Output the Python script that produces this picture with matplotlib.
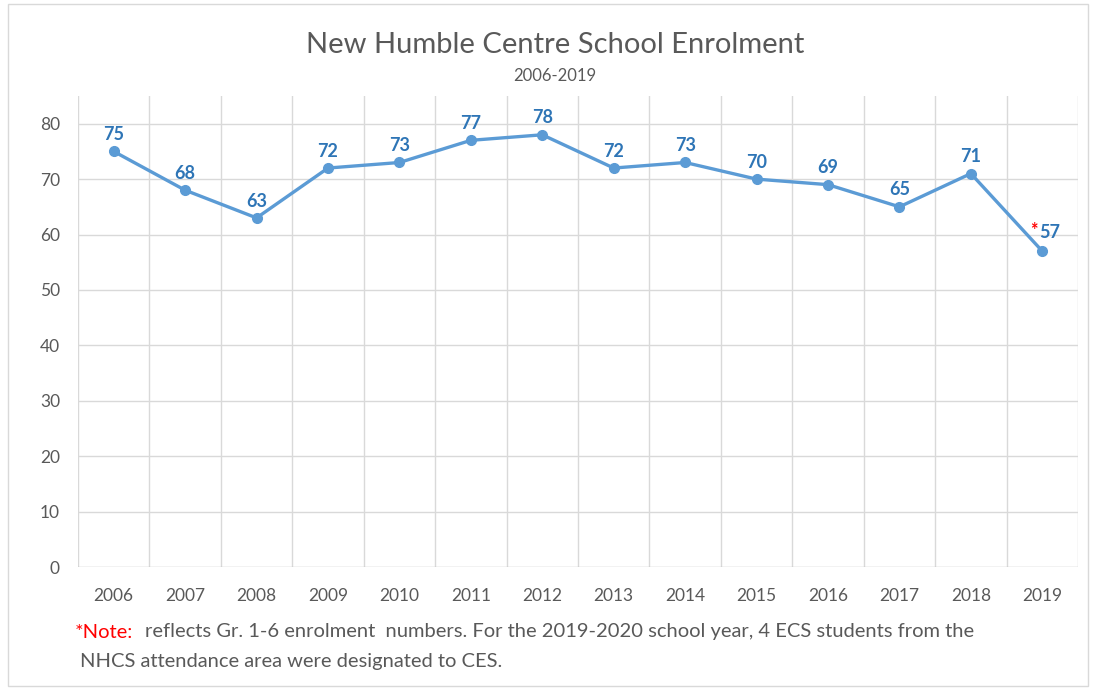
"""
New Humble Centre School enrolment, 2006-2019
"""

import matplotlib.pyplot as plt
from matplotlib.patches import Rectangle

years = ["2006", "2007", "2008", "2009", "2010", "2011", "2012",
         "2013", "2014", "2015", "2016", "2017", "2018", "2019"]
enrolment = [75, 68, 63, 72, 73, 77, 78, 72, 73, 70, 69, 65, 71, 57]
y_ticks = [0, 10, 20, 30, 40, 50, 60, 70, 80]

LINE = "#5B9BD5"
LABEL = "#2E75B6"
TEXT = "#595959"
GRID = "#D9D9D9"

plt.rcParams["font.family"] = ["Lato", "DejaVu Sans"]

fig = plt.figure(figsize=(10.96, 6.90), dpi=100)
ax = fig.add_axes([78 / 1096, 1 - 567 / 690, 1000 / 1096, 471 / 690])

x = list(range(len(years)))
ax.plot(x, enrolment, color=LINE, linewidth=2.4, marker="o",
        markersize=7, zorder=3)

last = len(enrolment) - 1
for i, v in enumerate(enrolment):
    if i == last:
        # starred label sits to the right of the point
        ax.annotate(str(v), (i, v), xytext=(-2, 7),
                    textcoords="offset points", ha="left", va="bottom",
                    color=LABEL, fontsize=13, fontweight="bold")
        ax.annotate("*", (i, v), xytext=(-3, 9), textcoords="offset points",
                    ha="right", va="bottom", color="#FF0000",
                    fontsize=13, fontweight="bold")
    else:
        ax.annotate(str(v), (i, v), xytext=(0, 6),
                    textcoords="offset points", ha="center", va="bottom",
                    color=LABEL, fontsize=13, fontweight="bold")

ax.set_xlim(-0.5, len(years) - 0.5)
ax.set_ylim(0, 85)
ax.set_yticks(y_ticks)
ax.set_xticks(x)
ax.set_xticklabels(years)

# vertical gridlines sit between categories
for b in range(len(years) + 1):
    ax.axvline(b - 0.5, color=GRID, linewidth=1, zorder=1)
for t in y_ticks:
    ax.axhline(t, color=GRID if t else "#BFBFBF", linewidth=1, zorder=1)

for s in ax.spines.values():
    s.set_visible(False)
ax.tick_params(length=0, colors=TEXT, labelsize=12.5)
ax.tick_params(axis="x", pad=15)
ax.tick_params(axis="y", pad=13)

fig.text(555 / 1096, 1 - 45 / 690, "New Humble Centre School Enrolment",
         ha="center", va="center", color=TEXT, fontsize=21)
fig.text(555 / 1096, 1 - 76 / 690, "2006-2019",
         ha="center", va="center", color=TEXT, fontsize=12)

fig.text(75 / 1096, 1 - 632 / 690, "*Note:", ha="left", va="center",
         color="#FF0000", fontsize=14.5)
fig.text(145 / 1096, 1 - 632 / 690,
         "reflects Gr. 1-6 enrolment  numbers. For the 2019-2020 school year, 4 ECS students from the",
         ha="left", va="center", color=TEXT, fontsize=14.5)
fig.text(80 / 1096, 1 - 661 / 690, "NHCS attendance area were designated to CES.",
         ha="left", va="center", color=TEXT, fontsize=14.5)

fig.patches.append(Rectangle((8 / 1096, 4 / 690), 1080 / 1096, 682 / 690,
                             transform=fig.transFigure, fill=False,
                             edgecolor="#D9D9D9", linewidth=1))

plt.savefig("out.png", dpi=100)
plt.close()
